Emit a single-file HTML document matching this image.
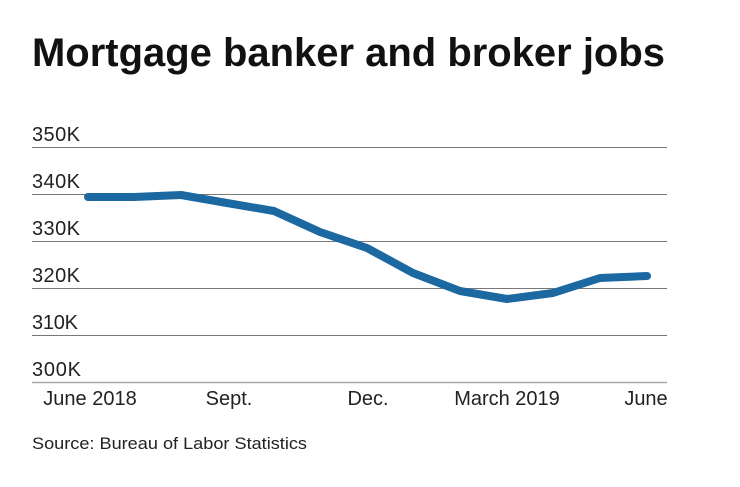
<!DOCTYPE html>
<html><head><style>
body{margin:0;background:#fff;width:740px;height:482px;overflow:hidden;font-family:"Liberation Sans",sans-serif;}
</style></head><body>
<svg width="740" height="482" xmlns="http://www.w3.org/2000/svg" font-family="Liberation Sans, sans-serif">
<text x="32" y="66" font-size="40" font-weight="bold" fill="#111" textLength="633" lengthAdjust="spacingAndGlyphs">Mortgage banker and broker jobs</text>
<g stroke="#777" stroke-width="1">
<line x1="32" y1="147.5" x2="667" y2="147.5"/>
<line x1="32" y1="194.5" x2="667" y2="194.5"/>
<line x1="32" y1="241.5" x2="667" y2="241.5"/>
<line x1="32" y1="288.5" x2="667" y2="288.5"/>
<line x1="32" y1="335.5" x2="667" y2="335.5"/>
</g>
<line x1="32" y1="382.5" x2="667" y2="382.5" stroke="#aaa" stroke-width="1.5"/>
<g font-size="20" fill="#222">
<text x="32" y="141" textLength="48">350K</text>
<text x="32" y="188" textLength="48">340K</text>
<text x="32" y="235" textLength="48">330K</text>
<text x="32" y="282" textLength="48">320K</text>
<text x="32" y="329" textLength="46">310K</text>
<text x="32" y="376" textLength="49">300K</text>
</g>
<g font-size="20" fill="#222" text-anchor="middle">
<text x="90" y="405">June 2018</text>
<text x="229" y="405">Sept.</text>
<text x="368" y="405">Dec.</text>
<text x="507" y="405">March 2019</text>
<text x="646" y="405">June</text>
</g>
<polyline fill="none" stroke="#1c68a0" stroke-width="8" stroke-linecap="round" stroke-linejoin="round"
points="88,197 134,197 181,195 227,203 274,211 320,232 367,248 413,273 460,291 507,299 553,293 600,278 647,276"/>
<text x="32" y="449" font-size="17" fill="#222" textLength="275" lengthAdjust="spacingAndGlyphs">Source: Bureau of Labor Statistics</text>
</svg>
</body></html>
